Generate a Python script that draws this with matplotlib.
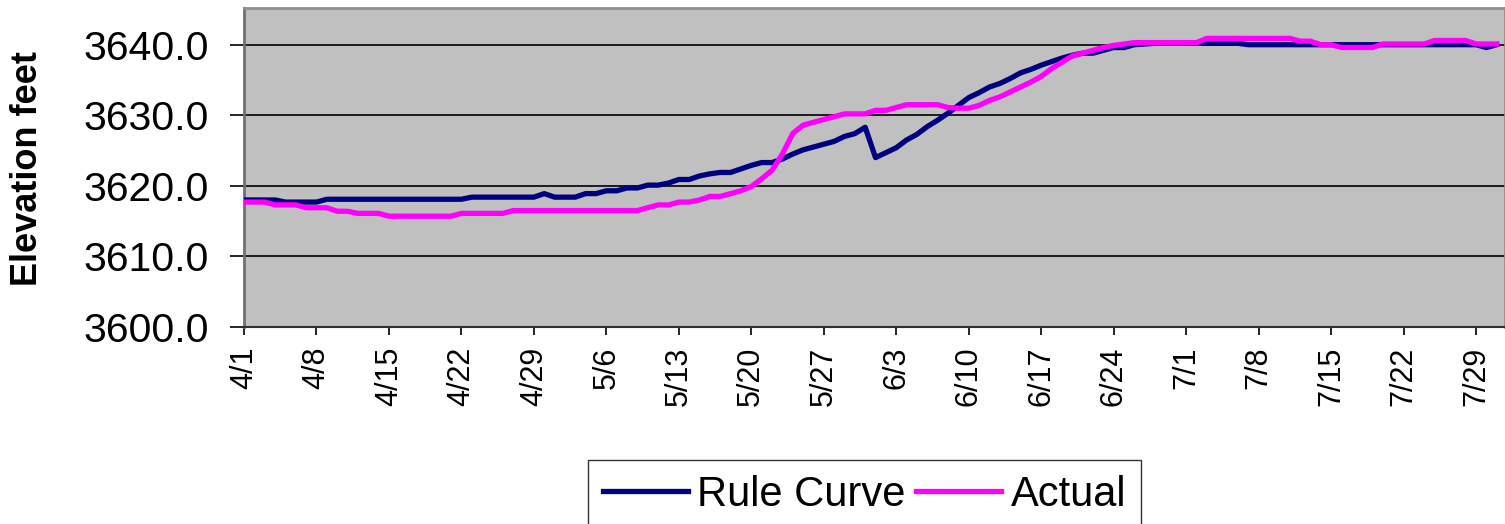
import numpy as np
import matplotlib
matplotlib.use("Agg")
import matplotlib.pyplot as plt

# daily elevations, 4/1 .. 7/31 (one row per week)
rule_curve = [
    3618.0, 3618.0, 3618.0, 3618.0, 3617.7, 3617.7, 3617.7,
    3617.7, 3618.1, 3618.1, 3618.1, 3618.1, 3618.1, 3618.1,
    3618.1, 3618.1, 3618.1, 3618.1, 3618.1, 3618.1, 3618.1,
    3618.1, 3618.4, 3618.4, 3618.4, 3618.4, 3618.4, 3618.4,
    3618.4, 3618.9, 3618.4, 3618.4, 3618.4, 3618.9, 3618.9,
    3619.3, 3619.3, 3619.7, 3619.7, 3620.1, 3620.1, 3620.4,
    3620.9, 3620.9, 3621.4, 3621.7, 3621.9, 3621.9, 3622.4,
    3622.9, 3623.3, 3623.3, 3623.8, 3624.5, 3625.1, 3625.5,
    3625.9, 3626.3, 3627.0, 3627.4, 3628.3, 3624.0, 3624.7,
    3625.4, 3626.5, 3627.3, 3628.4, 3629.3, 3630.3, 3631.4,
    3632.5, 3633.2, 3634.0, 3634.5, 3635.2, 3636.0, 3636.5,
    3637.1, 3637.6, 3638.1, 3638.5, 3638.8, 3638.8, 3639.2,
    3639.6, 3639.6, 3640.0, 3640.1, 3640.2, 3640.2, 3640.2,
    3640.2, 3640.2, 3640.2, 3640.2, 3640.2, 3640.2, 3640.0,
    3640.0, 3640.0, 3640.0, 3640.0, 3640.0, 3640.0, 3640.0,
    3640.0, 3640.0, 3640.0, 3640.0, 3640.0, 3640.0, 3640.0,
    3640.0, 3640.0, 3640.0, 3640.0, 3640.0, 3640.0, 3640.0,
    3640.0, 3639.6, 3640.0,
]

actual = [
    3617.7, 3617.7, 3617.7, 3617.3, 3617.3, 3617.3, 3616.9,
    3616.9, 3616.9, 3616.4, 3616.4, 3616.1, 3616.1, 3616.1,
    3615.7, 3615.7, 3615.7, 3615.7, 3615.7, 3615.7, 3615.7,
    3616.1, 3616.1, 3616.1, 3616.1, 3616.1, 3616.5, 3616.5,
    3616.5, 3616.5, 3616.5, 3616.5, 3616.5, 3616.5, 3616.5,
    3616.5, 3616.5, 3616.5, 3616.5, 3616.9, 3617.3, 3617.3,
    3617.7, 3617.7, 3618.0, 3618.5, 3618.5, 3618.9, 3619.3,
    3619.9, 3621.0, 3622.2, 3624.5, 3627.4, 3628.6, 3629.0,
    3629.4, 3629.8, 3630.2, 3630.2, 3630.2, 3630.7, 3630.7,
    3631.1, 3631.5, 3631.5, 3631.5, 3631.5, 3631.1, 3631.0,
    3631.0, 3631.4, 3632.1, 3632.6, 3633.3, 3634.0, 3634.7,
    3635.5, 3636.6, 3637.5, 3638.4, 3638.8, 3639.2, 3639.6,
    3639.9, 3640.1, 3640.3, 3640.3, 3640.3, 3640.3, 3640.3,
    3640.3, 3640.3, 3640.9, 3640.9, 3640.9, 3640.9, 3640.9,
    3640.9, 3640.9, 3640.9, 3640.9, 3640.5, 3640.5, 3640.0,
    3640.0, 3639.6, 3639.6, 3639.6, 3639.6, 3640.1, 3640.1,
    3640.1, 3640.1, 3640.1, 3640.6, 3640.6, 3640.6, 3640.6,
    3640.1, 3640.1, 3640.1,
]

tick_labels = ["4/1", "4/8", "4/15", "4/22", "4/29", "5/6", "5/13", "5/20",
               "5/27", "6/3", "6/10", "6/17", "6/24", "7/1", "7/8", "7/15",
               "7/22", "7/29"]

plt.rcParams['font.family'] = ['Liberation Sans', 'DejaVu Sans']

W, H = 1505, 524
fig = plt.figure(figsize=(W / 100, H / 100), dpi=100)
ax = fig.add_axes([244 / W, 1 - 327 / H, (W - 244) / W, 319 / H])
ax.set_facecolor('#C0C0C0')

days = np.arange(len(rule_curve))
ax.plot(days, rule_curve, color='#000080', lw=3.8, label='Rule Curve',
        solid_joinstyle='round', zorder=3)
ax.plot(days, actual, color='#FF00FF', lw=3.8, label='Actual',
        solid_joinstyle='round', zorder=4)

ax.set_xlim(0, 121.8)
ax.set_ylim(3600, 3645.2)
ax.set_yticks(np.arange(3600, 3641, 10))
ax.set_yticklabels([f"{v:.1f}" for v in np.arange(3600, 3641, 10)], fontsize=29.5)
ax.set_xticks(np.arange(0, len(rule_curve), 7))
ax.set_xticklabels(tick_labels, rotation=90, fontsize=22)
ax.yaxis.grid(True, color='black', lw=1.2)
ax.set_axisbelow(True)

ax.tick_params(axis='y', length=10, width=1.2, pad=15)
ax.tick_params(axis='x', length=6, width=1.2, pad=8)

for side in ['top', 'right']:
    ax.spines[side].set_color('#909090')
    ax.spines[side].set_linewidth(2)
ax.spines['left'].set_color('#707070')
ax.spines['left'].set_linewidth(2)
ax.spines['bottom'].set_color('#303030')
ax.spines['bottom'].set_linewidth(1.5)

fig.text(28 / W, 1 - 168 / H, 'Elevation feet', rotation=90, ha='center',
         va='center', fontsize=26, fontweight='bold')

leg = fig.legend(loc='upper left', bbox_to_anchor=(588 / W, 1 - 460 / H),
                 bbox_transform=fig.transFigure, ncol=2, fontsize=30,
                 frameon=True, fancybox=False, borderaxespad=0,
                 handlelength=2.05, handletextpad=0.22, columnspacing=0.25,
                 borderpad=0.35)
leg.get_frame().set_edgecolor('black')
leg.get_frame().set_linewidth(1)

fig.savefig('out.png', dpi=100)
